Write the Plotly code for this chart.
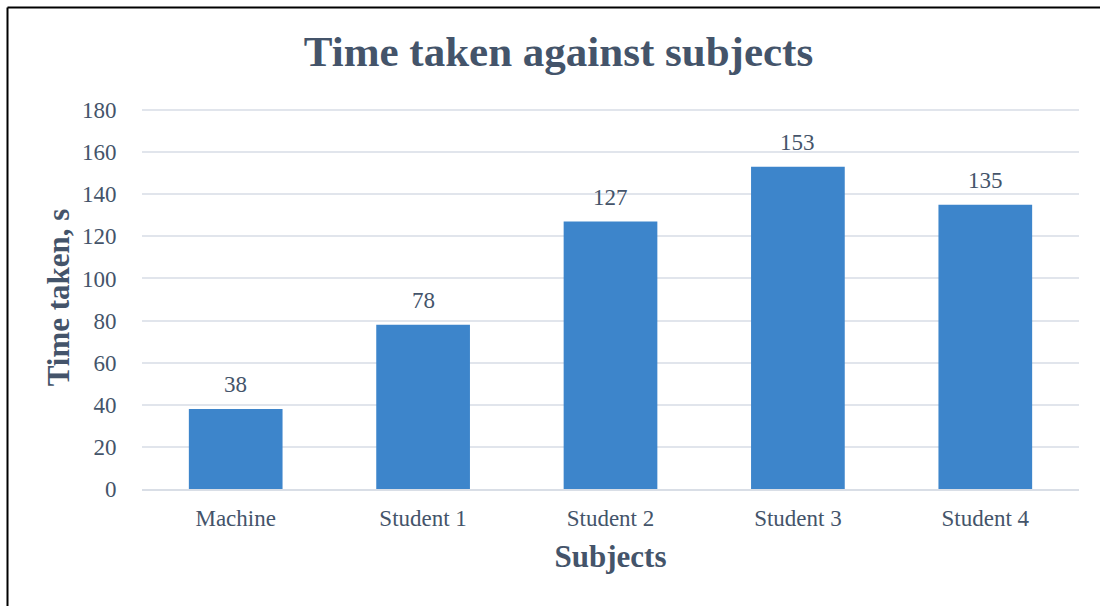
import plotly.graph_objects as go

categories = ["Machine", "Student 1", "Student 2", "Student 3", "Student 4"]
time_taken = [38, 78, 127, 153, 135]
y_ticks = [0, 20, 40, 60, 80, 100, 120, 140, 160, 180]

TEXT = "#44546A"
FONT = "Liberation Serif, Times New Roman, serif"
W, H = 1100, 606
ML, MR, MT, MB = 142, 21, 106, 117
PW, PH = W - ML - MR, H - MT - MB

fig = go.Figure()
fig.add_trace(go.Bar(
    x=categories, y=time_taken,
    marker=dict(color="#3D85CB", line=dict(width=0)),
    hoverinfo="x+y",
))

for c, v in zip(categories, time_taken):
    fig.add_annotation(x=c, y=v, text=str(v), showarrow=False,
                       yanchor="bottom", yshift=10,
                       font=dict(family=FONT, size=23, color=TEXT))

# frame lines (left and top border)
x_left = (7.5 - ML) / PW
y_top = (H - MB - 7.5) / PH
fig.add_shape(type="line", xref="paper", yref="paper", x0=x_left, x1=x_left,
              y0=-0.5, y1=y_top, line=dict(color="black", width=2))
fig.add_shape(type="line", xref="paper", yref="paper", x0=x_left, x1=1.2,
              y0=y_top, y1=y_top, line=dict(color="black", width=2))

fig.update_layout(
    width=W, height=H,
    margin=dict(l=ML, r=MR, t=MT, b=MB),
    paper_bgcolor="white", plot_bgcolor="white",
    bargap=0.5,
    showlegend=False,
    font=dict(family=FONT, color=TEXT, size=23),
    title=dict(text="<b>Time taken against subjects</b>", xref="container",
               x=558.5 / W, xanchor="center", yref="container",
               y=1 - 51 / H, yanchor="middle",
               font=dict(family=FONT, size=43, color=TEXT)),
    xaxis=dict(
        title=dict(text="<b>Subjects</b>", font=dict(family=FONT, size=31, color=TEXT), standoff=15),
        showgrid=False, showline=True, linecolor="#D9DEE6", linewidth=1.5,
        ticks="outside", ticklen=8, tickcolor="rgba(0,0,0,0)",
        tickfont=dict(family=FONT, size=23, color=TEXT),
    ),
    yaxis=dict(
        title=dict(text="<b>Time taken, s</b>", font=dict(family=FONT, size=31, color=TEXT), standoff=3),
        range=[0, 181.9], tickvals=y_ticks,
        showgrid=True, gridcolor="#E1E5EC", gridwidth=1.5,
        zeroline=False, showline=False,
        ticks="outside", ticklen=20, tickcolor="rgba(0,0,0,0)",
        tickfont=dict(family=FONT, size=23, color=TEXT),
    ),
)

fig.write_html("out.html", config={"displayModeBar": False},
               post_script="document.body.style.margin='0px';")
